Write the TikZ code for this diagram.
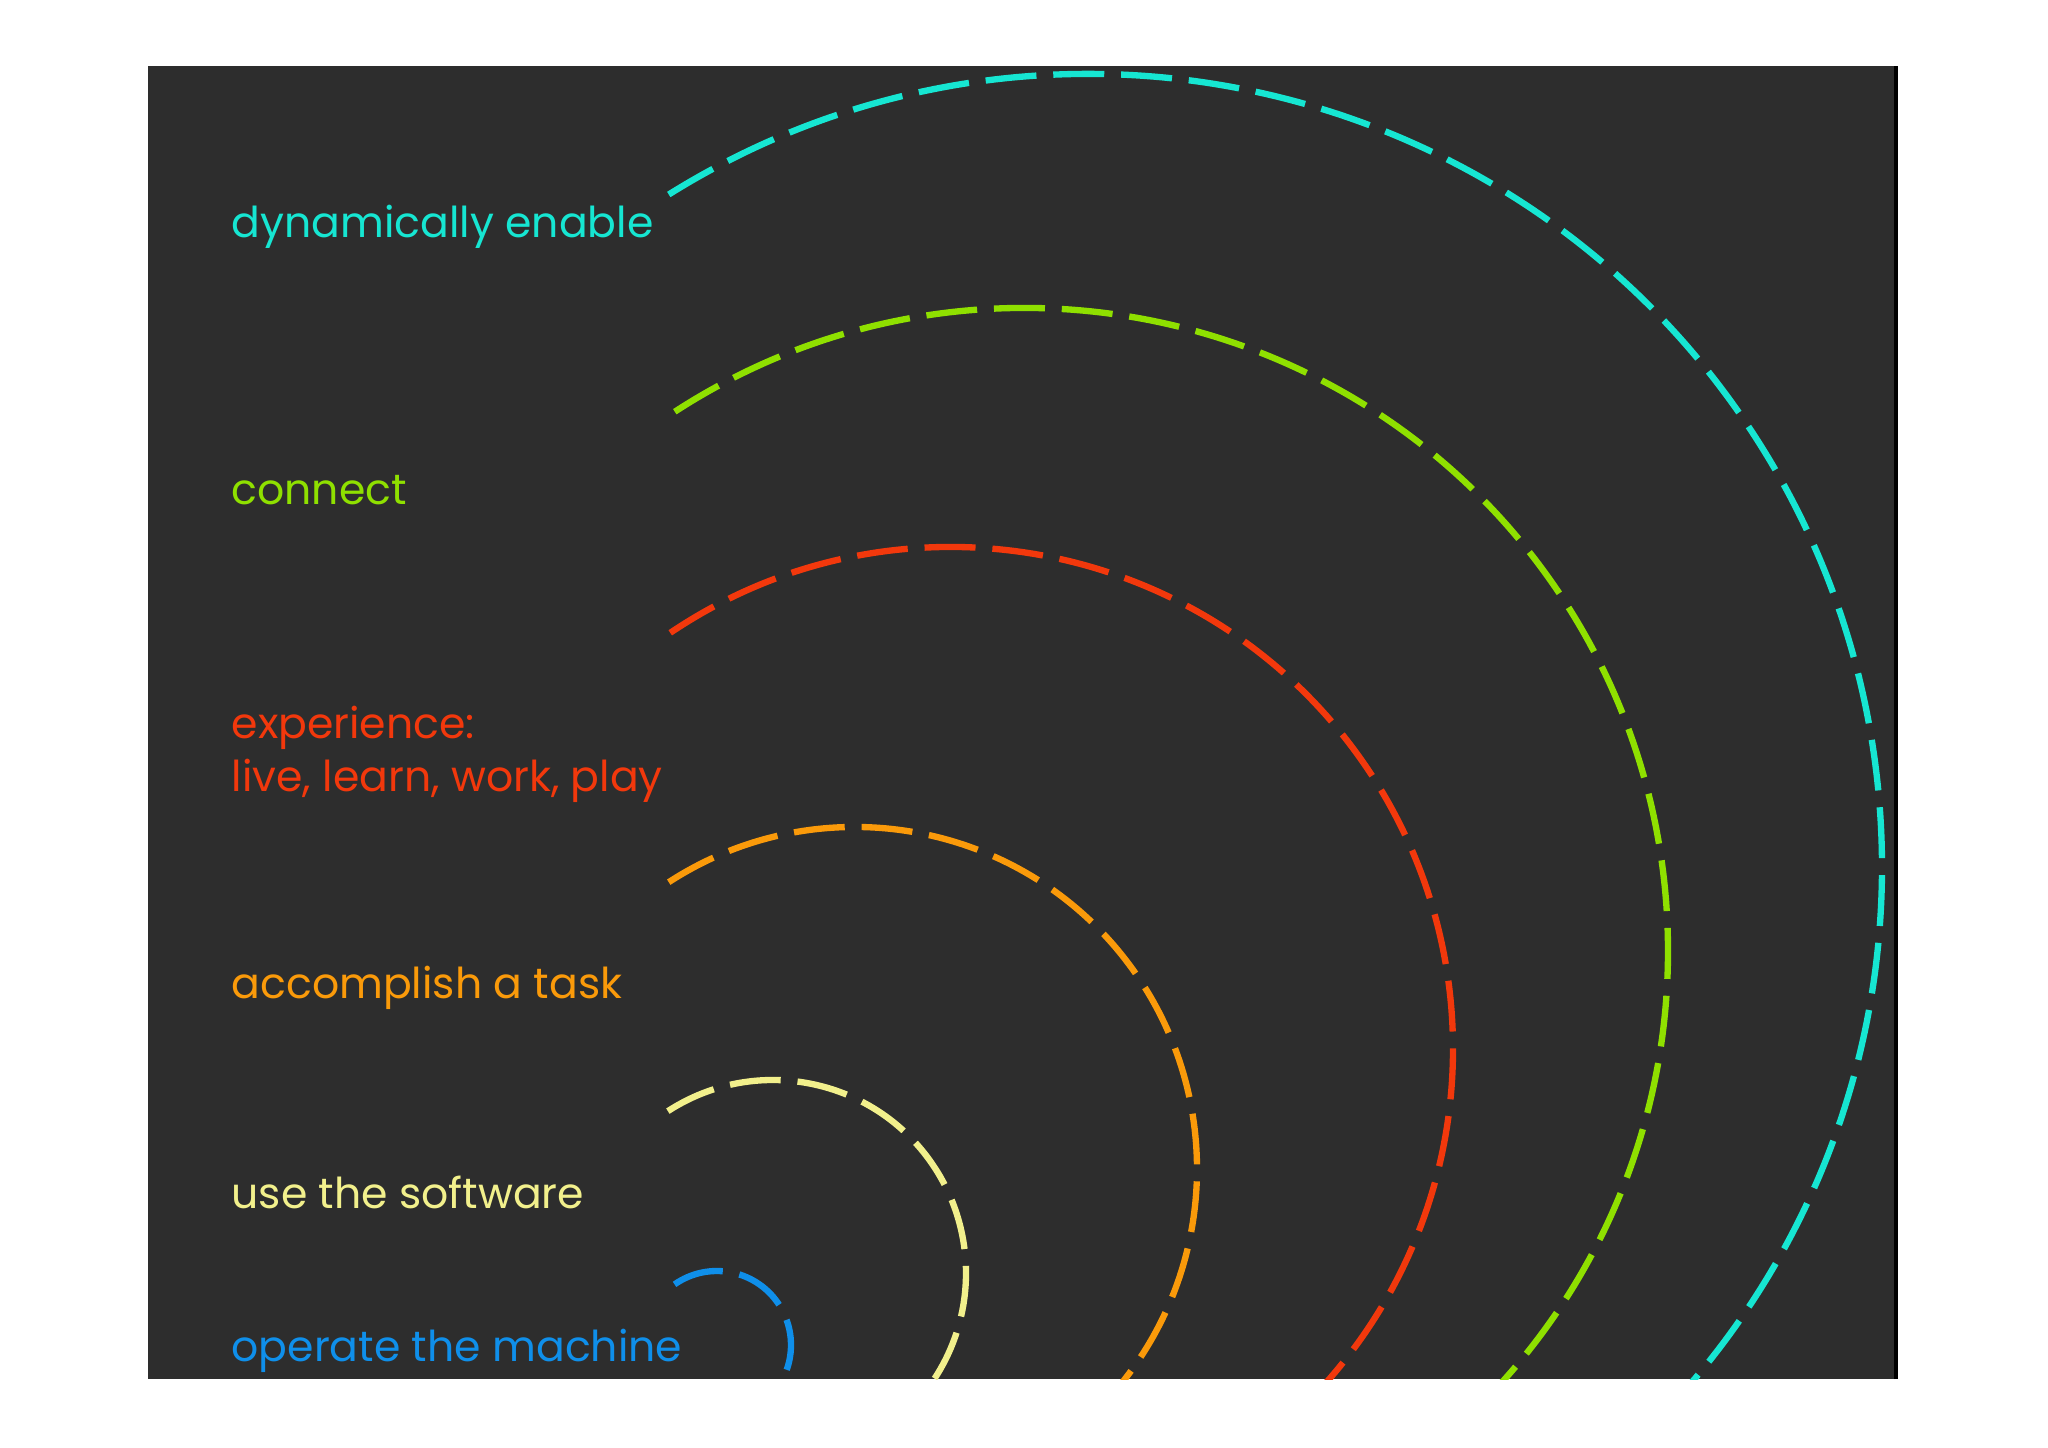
\documentclass[tikz,border=0pt]{standalone}
\usepackage{fontspec}
\setmainfont{Poppins}
\usetikzlibrary{calc,positioning}
\definecolor{panel}{HTML}{2D2D2D}
\definecolor{cyanring}{HTML}{16E6D2}
\definecolor{greenring}{HTML}{8FE000}
\definecolor{redring}{HTML}{F2380C}
\definecolor{orangering}{HTML}{FA9A0A}
\definecolor{yellowring}{HTML}{F2F08C}
\definecolor{bluering}{HTML}{0F8FEA}
\tikzset{
  ring/.style ={line width=1.8pt, dash pattern=on 14.5pt off 4.8pt},
  lbl/.style  ={anchor=base west, inner sep=0pt, font=\fontsize{12.1}{15}\selectfont, align=left},
}
\begin{document}
\begin{tikzpicture}[x=0.01cm, y=0.01cm]
  \useasboundingbox (0,0) rectangle (2048,1447);
  \fill[white] (0,0) rectangle (2048,1447);
  \fill[panel] (148,68) rectangle (1897,1381);
  \draw[black, line width=1pt] (1896,68) -- (1896,1381);

  % ring centres
  \coordinate (ccyan)   at (1089,580);
  \coordinate (cgreen)  at (1025,496);
  \coordinate (cred)    at (951,398);
  \coordinate (corange) at (855,278);
  \coordinate (cyellow) at (773,174);
  \coordinate (cblue)   at (717,102);

  \begin{scope}
    \clip (148,68) rectangle (1897,1381);
    \foreach \c/\r/\a/\col in {ccyan/793/122/cyanring, cgreen/643/123/greenring, cred/502/124/redring,
                               corange/342/123/orangering, cyellow/193/123/yellowring, cblue/74/125/bluering}
      \draw[ring, \col] ($(\c)+(\a:\r)$) arc[start angle=\a, end angle=-75, radius=\r];
  \end{scope}

  \node[lbl, text=cyanring]   (dyn)  at (231,1209) {dynamically enable};
  \node[lbl, text=greenring]  (conn) at (231,943)  {connect};
  \node[lbl, text=redring]    (exp)  at (231,709)  {experience:};
  \node[lbl, text=redring]    (live) at (231,656)  {live, learn, work, play};
  \node[lbl, text=orangering] (task) at (231,449)  {accomplish a task};
  \node[lbl, text=yellowring] (soft) at (231,239)  {use the software};
  \node[lbl, text=bluering]   (mach) at (231,86)   {operate the machine};
\end{tikzpicture}
\end{document}
